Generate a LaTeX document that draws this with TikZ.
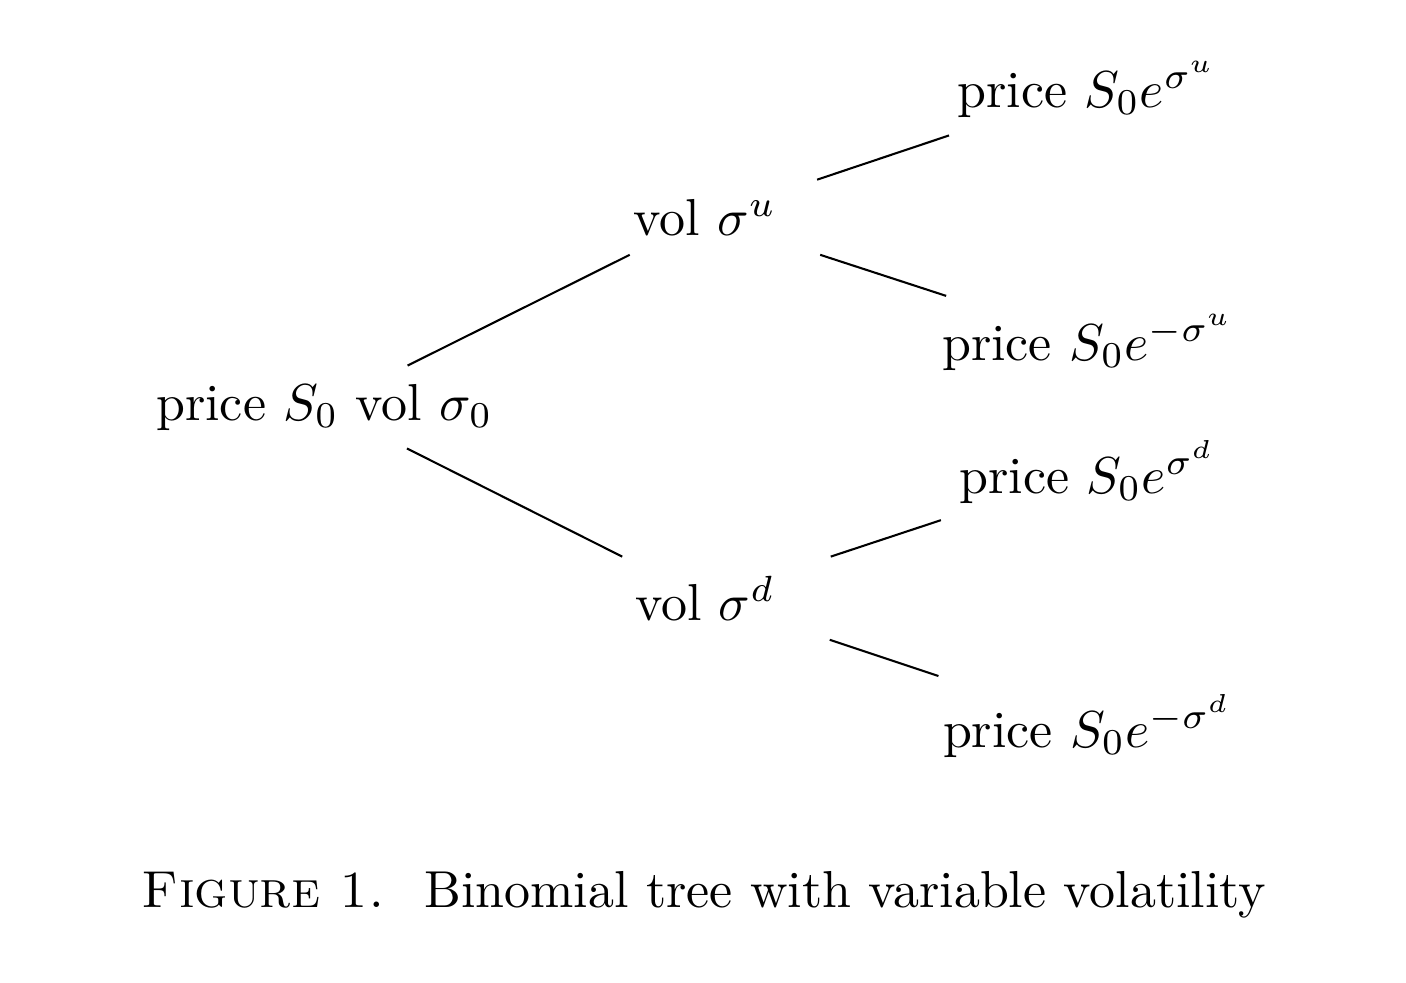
\documentclass[tikz,border=0pt]{standalone}
\begin{document}
\begin{tikzpicture}[x=0.19231pt,y=-0.19231pt,
  lbl/.style={anchor=base,inner sep=3.33pt},
  volnode/.style={lbl,inner xsep=12pt,inner ysep=3.5pt},
  branch/.style={line width=0.4pt}]
\useasboundingbox (0,0) rectangle (1406,982);
\node[lbl] (root) at (324.5,420) {price $S_0$ vol $\sigma_0$};
\node[volnode] (vu) at (705,235) {vol $\sigma^u$};
\node[volnode] (vd) at (705,620) {vol $\sigma^d$};
\node[lbl] (l1) at (1087,107) {price $S_0e^{\sigma^u}$};
\node[lbl] (l2) at (1088,360) {price $S_0e^{-\sigma^u}$};
\node[lbl] (l3) at (1087.5,493) {price $S_0e^{\sigma^d}$};
\node[lbl] (l4) at (1087.5,747) {price $S_0e^{-\sigma^d}$};
\node[lbl] (cap) at (704,907) {\textsc{Figure 1.}\hspace{7.5pt}Binomial tree with variable volatility};
\draw[branch] (root) -- (vu);
\draw[branch] (root) -- (vd);
\draw[branch] (vu) -- (l1);
\draw[branch] (vu) -- (l2);
\draw[branch] (vd) -- (l3);
\draw[branch] (vd) -- (l4);
\end{tikzpicture}
\end{document}
